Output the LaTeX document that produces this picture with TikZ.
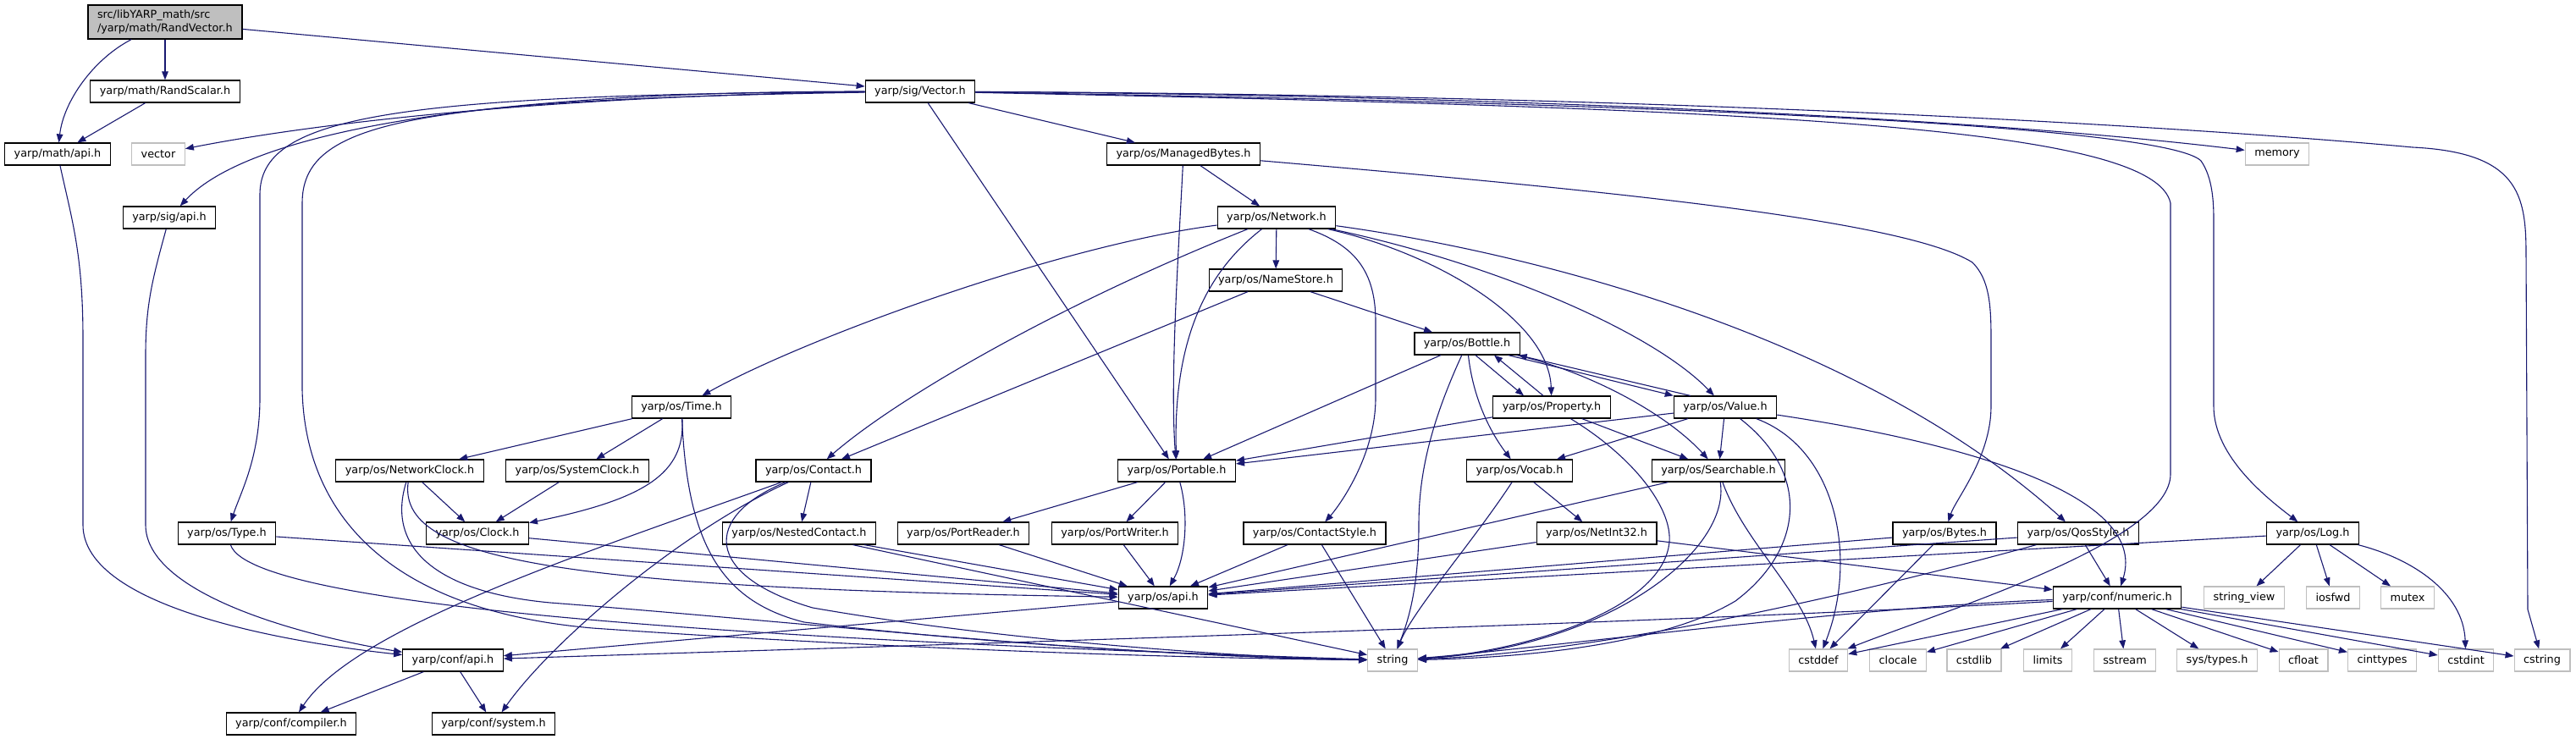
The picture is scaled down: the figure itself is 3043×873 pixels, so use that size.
\documentclass[tikz,border=0pt]{standalone}
\usepackage{fontspec}
\setmainfont{DejaVu Sans}
\usetikzlibrary{arrows.meta,calc}
\definecolor{depblue}{HTML}{191970}
\definecolor{sysgray}{HTML}{BFBFBF}
\begin{document}
\begin{tikzpicture}[x=0.5pt,y=-0.5pt,
    hdr/.style={draw=black, line width=0.6pt, fill=white, minimum height=13pt,
      inner xsep=5.5pt, inner ysep=0pt, font=\fontsize{6.4}{7.7}\selectfont},
    sys/.style={hdr, draw=sysgray},
    root/.style={hdr, fill=sysgray, align=left, minimum height=20pt, text width=80pt},
    dep/.style={draw=depblue, line width=0.55pt, -{Triangle[length=5pt,width=3.8pt]}}]
        \useasboundingbox (0,0) rectangle (3043,873);

        % Cabeceras
        \node[root] (rv) at (195,26) {src/libYARP\_math/src\\/yarp/math/RandVector.h};
        \node[hdr] (rs) at (195,108) {yarp/math/RandScalar.h};
        \node[hdr] (vec) at (1087,108) {yarp/sig/Vector.h};
        \node[hdr] (mapi) at (68,182) {yarp/math/api.h};
        \node[sys] (vector) at (187,182) {vector};
        \node[hdr] (mb) at (1398,182) {yarp/os/ManagedBytes.h};
        \node[sys] (memory) at (2690,182) {memory};
        \node[hdr] (sapi) at (200,257) {yarp/sig/api.h};
        \node[hdr] (net) at (1508,257) {yarp/os/Network.h};
        \node[hdr] (ns) at (1507,331) {yarp/os/NameStore.h};
        \node[hdr] (bottle) at (1733,406) {yarp/os/Bottle.h};
        \node[hdr] (time) at (805,481) {yarp/os/Time.h};
        \node[hdr] (prop) at (1833,481) {yarp/os/Property.h};
        \node[hdr] (value) at (2038,481) {yarp/os/Value.h};
        \node[hdr] (nclock) at (484,556) {yarp/os/NetworkClock.h};
        \node[hdr] (sclock) at (682,556) {yarp/os/SystemClock.h};
        \node[hdr] (contact) at (961,556) {yarp/os/Contact.h};
        \node[hdr] (portable) at (1390,556) {yarp/os/Portable.h};
        \node[hdr] (vocab) at (1795,556) {yarp/os/Vocab.h};
        \node[hdr] (search) at (2030,556) {yarp/os/Searchable.h};
        \node[hdr] (type) at (268,630) {yarp/os/Type.h};
        \node[hdr] (clock) at (564,630) {yarp/os/Clock.h};
        \node[hdr] (nested) at (944,630) {yarp/os/NestedContact.h};
        \node[hdr] (preader) at (1138,630) {yarp/os/PortReader.h};
        \node[hdr] (pwriter) at (1317,630) {yarp/os/PortWriter.h};
        \node[hdr] (cstyle) at (1553,630) {yarp/os/ContactStyle.h};
        \node[hdr] (netint) at (1886,630) {yarp/os/NetInt32.h};
        \node[hdr] (bytes) at (2297,630) {yarp/os/Bytes.h};
        \node[hdr] (qos) at (2455,630) {yarp/os/QosStyle.h};
        \node[hdr] (log) at (2732,630) {yarp/os/Log.h};
        \node[hdr] (osapi) at (1374,706) {yarp/os/api.h};
        \node[hdr] (numeric) at (2501,706) {yarp/conf/numeric.h};
        \node[sys] (strview) at (2651,706) {string\_view};
        \node[sys] (iosfwd) at (2756,706) {iosfwd};
        \node[sys] (mutex) at (2844,706) {mutex};
        \node[hdr] (capi) at (535,780) {yarp/conf/api.h};
        \node[sys] (string) at (1645,780) {string};
        \foreach \hname/\x in {cstddef/2148,clocale/2242,cstdlib/2332,limits/2419,sstream/2510,cfloat/2721,cinttypes/2814,cstdint/2913,cstring/3003}
            \node[sys] (\hname) at (\x,780) {\hname};
        \node[sys] (systypes) at (2619,780) {sys/types.h};
        \node[hdr] (compiler) at (344,855) {yarp/conf/compiler.h};
        \node[hdr] (system) at (583,855) {yarp/conf/system.h};

        % Raíz y math
        \draw[dep] (rv) .. controls (110,70) and (75,120) .. (mapi);
        \draw[dep] (rv) -- (rs);
        \draw[dep] (rv) -- (vec);
        \draw[dep] (rs) -- (mapi);
        \draw[dep] (mapi) .. controls (85,260) and (98,300) .. (98,400) -- (98,620) .. controls (98,720) and (350,760) .. (capi);
        \draw[dep] (sapi) .. controls (180,330) and (172,360) .. (172,420) -- (172,620) .. controls (172,700) and (350,750) .. (capi);

        % Vector.h
        \draw[dep] (vec) .. controls (700,112) and (400,140) .. (vector);
        \draw[dep] (vec) .. controls (600,108) and (300,150) .. (sapi);
        \draw[dep] (vec) .. controls (450,112) and (307,140) .. (307,230) -- (307,470) .. controls (307,540) and (285,580) .. (type);
        \draw[dep] (vec) .. controls (480,118) and (357,145) .. (357,240) -- (357,460) .. controls (360,600) and (450,720) .. (700,742) .. controls (1100,770) and (1450,778) .. (string);
        \draw[dep] (vec) -- (portable);
        \draw[dep] (vec) -- (mb);
        \draw[dep] (vec) .. controls (1700,112) and (2300,135) .. (memory);
        \draw[dep] (vec) .. controls (2100,113) and (2700,160) .. (2850,174) .. controls (2975,180) and (2984,230) .. (2984,300) -- (2986,720) -- (cstring);
        \draw[dep] (vec) .. controls (2000,122) and (2560,150) .. (2600,190) .. controls (2614,210) and (2615,240) .. (2615,260) -- (2615,480) .. controls (2615,540) and (2680,590) .. (log);
        \draw[dep] (vec) .. controls (2100,128) and (2545,150) .. (2564,240) -- (2564,560) .. controls (2564,640) and (2300,720) .. (cstddef);

        % ManagedBytes.h y Network.h
        \draw[dep] (mb) -- (net);
        \draw[dep] (mb) .. controls (1392,300) and (1382,450) .. (portable);
        \draw[dep] (mb) .. controls (1900,225) and (2250,260) .. (2330,310) .. controls (2350,330) and (2352,360) .. (2352,400) -- (2352,480) .. controls (2352,540) and (2310,590) .. (bytes);
        \draw[dep] (net) -- (ns);
        \draw[dep] (net) .. controls (1250,290) and (950,400) .. (time);
        \draw[dep] (net) .. controls (1250,360) and (1060,470) .. (contact);
        \draw[dep] (net) .. controls (1440,310) and (1385,380) .. (portable);
        \draw[dep] (net) .. controls (1600,290) and (1625,320) .. (1625,380) -- (1625,470) .. controls (1625,540) and (1580,600) .. (cstyle);
        \draw[dep] (net) .. controls (1700,300) and (1830,380) .. (prop);
        \draw[dep] (net) .. controls (1760,310) and (1950,390) .. (value);
        \draw[dep] (net) .. controls (1820,300) and (2200,400) .. (qos);
        \draw[dep] (ns) -- (bottle);
        \draw[dep] (ns) -- (contact);

        % Bottle, Property, Value
        \draw[dep] (bottle) -- (portable);
        \draw[dep] (bottle) .. controls (1690,500) and (1676,560) .. (1676,620) .. controls (1676,690) and (1665,730) .. (string);
        \draw[dep] (bottle) .. controls (1740,470) and (1760,510) .. (vocab);
        \draw[dep] ($(bottle.south)+(10,0)$) -- ($(prop.north)+(-33,0)$);
        \draw[dep] ($(prop.north)+(-10,0)$) -- ($(bottle.south)+(32,0)$);
        \draw[dep] ($(bottle.south east)+(-14,0)$) -- (value.north west);
        \draw[dep] ($(value.north west)+(20,0)$) -- ($(bottle.south east)+(-2,0)$);
        \draw[dep] (bottle) .. controls (1880,440) and (1970,490) .. (search);
        \draw[dep] (prop) -- (portable);
        \draw[dep] (prop) -- (search);
        \draw[dep] (prop) .. controls (1930,540) and (1975,600) .. (1972,640) .. controls (1965,720) and (1800,770) .. (string);
        \draw[dep] (value) -- (portable);
        \draw[dep] (value) -- (vocab);
        \draw[dep] (value) -- (search);
        \draw[dep] (value) .. controls (2140,560) and (2130,650) .. (2050,710) .. controls (1950,770) and (1750,778) .. (string);
        \draw[dep] (value) .. controls (2170,530) and (2195,660) .. (cstddef);
        \draw[dep] (value) .. controls (2300,520) and (2540,580) .. (numeric);
        \draw[dep] (search) -- (osapi);
        \draw[dep] (search) .. controls (2045,650) and (1900,765) .. (string);
        \draw[dep] (search) .. controls (2060,640) and (2130,700) .. (cstddef);
        \draw[dep] (vocab) .. controls (1740,640) and (1670,720) .. (string);
        \draw[dep] (vocab) -- (netint);
        \draw[dep] (netint) -- (osapi);
        \draw[dep] (netint) -- (numeric);

        % Portable y vecinos
        \draw[dep] (portable) -- (preader);
        \draw[dep] (portable) -- (pwriter);
        \draw[dep] (portable) .. controls (1405,610) and (1400,660) .. (osapi);
        \draw[dep] (preader) -- (osapi);
        \draw[dep] (pwriter) -- (osapi);
        \draw[dep] (cstyle) -- (osapi);
        \draw[dep] (cstyle) -- (string);
        \draw[dep] (bytes) -- (osapi);
        \draw[dep] (bytes) -- (cstddef);
        \draw[dep] (qos) -- (osapi);
        \draw[dep] (qos) -- (numeric);
        \draw[dep] (qos) .. controls (2200,700) and (1900,770) .. (string);
        \draw[dep] (log) -- (osapi);
        \draw[dep] (log) -- (strview);
        \draw[dep] (log) -- (iosfwd);
        \draw[dep] (log) -- (mutex);
        \draw[dep] (log) .. controls (2850,660) and (2910,700) .. (cstdint);

        % numeric.h
        \foreach \hname in {cstddef,clocale,cstdlib,limits,sstream,systypes,cfloat,cinttypes,cstdint,cstring}
            \draw[dep] (numeric) -- (\hname);
        \draw[dep] (numeric) .. controls (2200,716) and (1800,768) .. (string);
        \draw[dep] (numeric) .. controls (2000,735) and (1000,765) .. (capi);

        % Time, relojes, Contact
        \draw[dep] (type) -- (osapi);
        \draw[dep] (type) .. controls (300,730) and (1100,762) .. (string);
        \draw[dep] (clock) -- (osapi);
        \draw[dep] (nclock) -- (clock);
        \draw[dep] (nclock) .. controls (470,660) and (650,695) .. (osapi);
        \draw[dep] (nclock) .. controls (455,650) and (520,700) .. (650,712) .. controls (950,735) and (1300,775) .. (string);
        \draw[dep] (sclock) -- (clock);
        \draw[dep] (time) -- (nclock);
        \draw[dep] (time) -- (sclock);
        \draw[dep] (time) .. controls (810,560) and (760,590) .. (clock);
        \draw[dep] (time) .. controls (812,640) and (850,710) .. (950,735) .. controls (1200,765) and (1500,778) .. (string);
        \draw[dep] (contact) -- (nested);
        \draw[dep] (contact) .. controls (700,650) and (420,740) .. (compiler);
        \draw[dep] (contact) .. controls (800,630) and (650,760) .. (system);
        \draw[dep] (contact) .. controls (830,610) and (830,680) .. (960,718) .. controls (1200,760) and (1500,778) .. (string);
        \draw[dep] (nested) -- (osapi);
        \draw[dep] (nested) -- (string);

        % conf
        \draw[dep] (osapi) -- (capi);
        \draw[dep] (capi) -- (compiler);
        \draw[dep] (capi) -- (system);
    \end{tikzpicture}
\end{document}
